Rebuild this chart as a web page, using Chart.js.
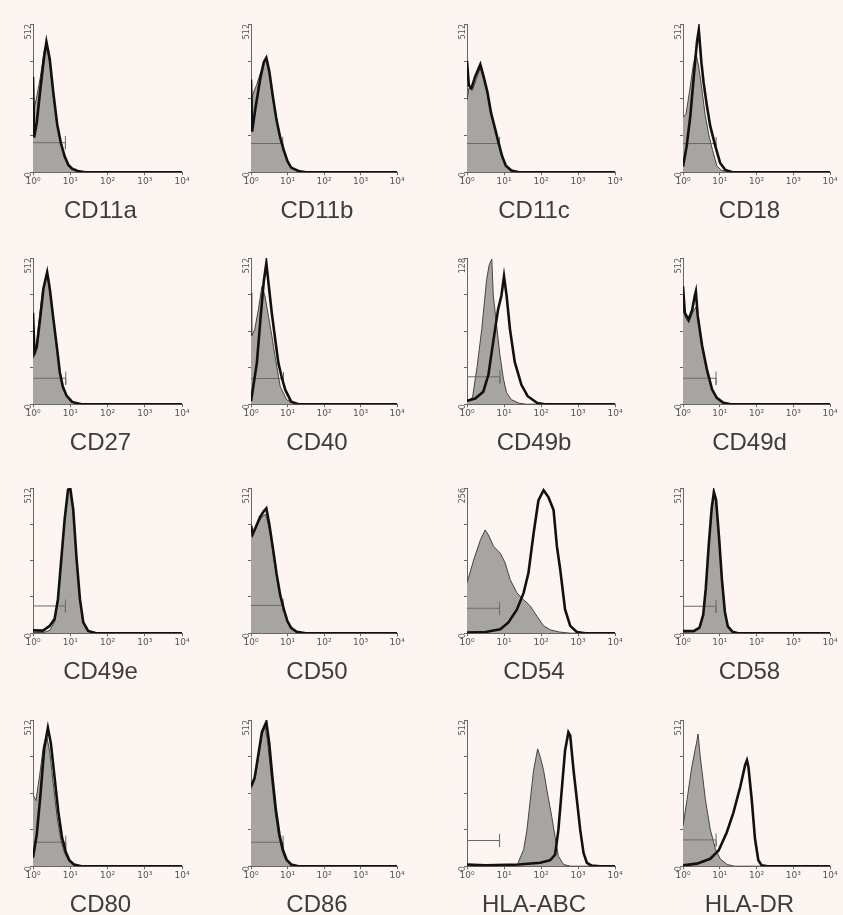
<!DOCTYPE html>
<html>
<head>
<meta charset="utf-8">
<script src="https://cdn.jsdelivr.net/npm/chart.js@4.4.1/dist/chart.umd.min.js"></script>
<style>
  body { margin: 0; background: #fcf5f2; }
  #wrap { position: relative; width: 843px; height: 915px; background: #fcf5f2; overflow: hidden; }
  canvas { position: absolute; }
</style>
</head>
<body>
<div id="wrap"></div>
<script>
// panel names, count range, gate marker
const names = ['CD11a', 'CD11b', 'CD11c', 'CD18', 'CD27', 'CD40', 'CD49b', 'CD49d',
  'CD49e', 'CD50', 'CD54', 'CD58', 'CD80', 'CD86', 'HLA-ABC', 'HLA-DR'];
const countMax = [512, 512, 512, 512, 512, 512, 128, 512, 512, 512, 256, 512, 512, 512, 512, 512];
const decades = [0, 1, 2, 3, 4];
const decadeLabels = ['10⁰', '10¹', '10²', '10³', '10⁴'];
const gateLevel = [102, 99, 99, 99, 91, 90, 24, 91, 96, 98, 44, 95, 84, 84, 90, 92];
const gateEnd = [0.87, 0.87, 0.88, 0.9, 0.88, 0.89, 0.89, 0.9, 0.87, 0.88, 0.88, 0.9, 0.88, 0.88, 0.88, 0.9];

// [log10 fluorescence, count] - isotype control (grey) and antibody (black)
const cd11aIso = [[0,200],[0.1,260],[0.2,330],[0.3,420],[0.36,440],[0.45,380],[0.55,260],[0.65,160],[0.75,100],[0.85,50],[0.95,22],[1.05,10],[1.2,3],[1.4,0],[4,0]];
const cd11aAb = [[0,330],[0.03,120],[0.1,170],[0.2,290],[0.3,400],[0.36,450],[0.45,390],[0.55,270],[0.65,165],[0.75,100],[0.85,55],[0.95,25],[1.05,12],[1.2,4],[1.4,0],[4,0]];
const cd11bIso = [[0,200],[0.05,270],[0.15,300],[0.25,340],[0.35,375],[0.42,390],[0.5,340],[0.6,250],[0.7,175],[0.8,115],[0.9,75],[1.0,35],[1.1,15],[1.3,3],[1.5,0],[4,0]];
const cd11bAb = [[0,320],[0.03,140],[0.12,220],[0.25,320],[0.35,380],[0.42,395],[0.5,350],[0.6,260],[0.7,180],[0.8,120],[0.9,75],[1.0,38],[1.1,16],[1.3,4],[1.5,0],[4,0]];
const cd11cIso = [[0,250],[0.05,290],[0.15,285],[0.25,320],[0.36,360],[0.45,320],[0.55,270],[0.65,200],[0.75,150],[0.85,100],[0.95,55],[1.05,22],[1.2,6],[1.4,0],[4,0]];
const cd11cAb = [[0,385],[0.05,300],[0.12,290],[0.22,330],[0.36,372],[0.45,330],[0.55,278],[0.65,205],[0.75,155],[0.85,103],[0.95,55],[1.05,22],[1.2,6],[1.4,0],[4,0]];
const cd18Iso = [[0,190],[0.08,200],[0.18,280],[0.28,370],[0.35,412],[0.42,370],[0.5,300],[0.6,200],[0.7,130],[0.8,78],[0.92,22],[1.05,6],[1.3,0],[4,0]];
const cd18Ab = [[0,20],[0.1,90],[0.2,195],[0.3,340],[0.38,450],[0.43,492],[0.5,380],[0.56,310],[0.65,230],[0.74,160],[0.88,90],[1.01,32],[1.15,8],[1.35,0],[4,0]];
const cd27Iso = [[0,170],[0.07,175],[0.15,280],[0.25,390],[0.38,455],[0.45,400],[0.55,290],[0.65,190],[0.72,110],[0.8,60],[0.9,28],[1.05,8],[1.3,0],[4,0]];
const cd27Ab = [[0,320],[0.04,180],[0.1,200],[0.2,310],[0.28,405],[0.38,462],[0.45,405],[0.55,295],[0.65,190],[0.72,112],[0.8,62],[0.9,30],[1.05,8],[1.3,0],[4,0]];
const cd40Iso = [[0,390],[0.02,240],[0.1,260],[0.2,330],[0.3,413],[0.38,380],[0.48,307],[0.57,240],[0.66,167],[0.8,62],[0.98,15],[1.2,3],[1.4,0],[4,0]];
const cd40Ab = [[0,10],[0.06,60],[0.16,144],[0.26,300],[0.35,430],[0.42,494],[0.5,400],[0.57,319],[0.66,230],[0.75,144],[0.85,90],[0.94,50],[1.1,9],[1.3,0],[4,0]];
const cd49bIso = [[0,2],[0.15,6],[0.27,32],[0.4,66],[0.53,109],[0.6,122],[0.67,127],[0.71,95],[0.8,69],[0.89,43],[0.98,23],[1.07,10],[1.2,4],[1.4,1],[1.6,0],[4,0]];
const cd49bAb = [[0,3],[0.22,5],[0.44,11],[0.58,26],[0.71,55],[0.84,83],[0.93,95],[1.0,112],[1.07,95],[1.16,66],[1.29,37],[1.47,17],[1.64,7],[1.9,1],[2.1,0],[4,0]];
const cd49dIso = [[0,330],[0.08,300],[0.16,285],[0.26,320],[0.35,340],[0.42,300],[0.52,200],[0.65,120],[0.79,50],[0.92,20],[1.1,4],[1.3,0],[4,0]];
const cd49dAb = [[0,413],[0.05,320],[0.15,296],[0.25,330],[0.32,380],[0.35,395],[0.4,310],[0.52,205],[0.65,122],[0.79,52],[0.92,22],[1.1,5],[1.3,0],[4,0]];
const cd49eIso = [[0,2],[0.3,3],[0.45,10],[0.58,40],[0.67,115],[0.76,255],[0.85,395],[0.94,500],[1.0,510],[1.08,430],[1.17,255],[1.26,115],[1.35,35],[1.48,6],[1.7,0],[4,0]];
const cd49eAb = [[0,10],[0.27,9],[0.45,26],[0.58,50],[0.67,120],[0.76,262],[0.85,402],[0.94,506],[1.0,512],[1.08,436],[1.17,262],[1.26,120],[1.35,38],[1.48,8],[1.7,0],[4,0]];
const cd50Iso = [[0,340],[0.1,360],[0.2,390],[0.3,410],[0.4,420],[0.5,370],[0.6,290],[0.7,200],[0.8,130],[0.9,80],[1.0,40],[1.1,18],[1.25,5],[1.5,0],[4,0]];
const cd50Ab = [[0,380],[0.05,350],[0.15,380],[0.25,410],[0.35,430],[0.42,440],[0.5,385],[0.6,300],[0.7,210],[0.8,135],[0.9,84],[1.0,42],[1.1,19],[1.25,5],[1.5,0],[4,0]];
const cd54Iso = [[0,89],[0.18,129],[0.36,164],[0.49,182],[0.58,173],[0.72,153],[0.9,141],[1.03,124],[1.17,94],[1.35,71],[1.53,59],[1.71,48],[1.89,30],[2.07,13],[2.25,6],[2.5,2],[2.8,0],[4,0]];
const cd54Ab = [[0,1],[0.5,2],[0.9,7],[1.12,19],[1.35,42],[1.53,71],[1.66,106],[1.8,176],[1.93,234],[2.07,252],[2.2,240],[2.34,217],[2.43,153],[2.52,112],[2.65,42],[2.79,13],[2.97,2],[3.2,0],[4,0]];
const cd58Iso = [[0,3],[0.3,5],[0.45,15],[0.55,60],[0.62,150],[0.7,300],[0.78,430],[0.84,490],[0.9,460],[0.98,330],[1.06,180],[1.14,70],[1.22,20],[1.35,4],[1.5,0],[4,0]];
const cd58Ab = [[0,8],[0.3,8],[0.45,20],[0.55,65],[0.62,158],[0.7,310],[0.78,440],[0.84,498],[0.9,470],[0.98,340],[1.06,188],[1.14,75],[1.22,24],[1.35,5],[1.5,0],[4,0]];
const cd80Iso = [[0,250],[0.08,230],[0.18,320],[0.28,420],[0.36,460],[0.45,400],[0.55,280],[0.65,170],[0.75,90],[0.85,45],[0.95,20],[1.1,5],[1.3,0],[4,0]];
const cd80Ab = [[0,30],[0.1,110],[0.2,250],[0.3,410],[0.4,484],[0.48,430],[0.58,310],[0.68,190],[0.78,100],[0.88,50],[0.98,20],[1.1,6],[1.3,0],[4,0]];
const cd86Iso = [[0,270],[0.1,300],[0.2,380],[0.3,460],[0.38,490],[0.45,440],[0.55,320],[0.65,200],[0.75,110],[0.85,55],[0.95,22],[1.1,6],[1.3,0],[4,0]];
const cd86Ab = [[0,280],[0.1,310],[0.2,390],[0.3,470],[0.42,505],[0.5,430],[0.58,320],[0.68,200],[0.78,110],[0.88,55],[0.98,22],[1.1,6],[1.3,0],[4,0]];
const hlaAbcIso = [[0,0],[1.35,2],[1.53,58],[1.62,127],[1.71,232],[1.8,336],[1.91,411],[1.98,382],[2.07,336],[2.16,266],[2.29,174],[2.38,104],[2.47,35],[2.61,6],[2.8,0],[4,0]];
const hlaAbcAb = [[0,6],[0.5,3],[1.4,6],[1.98,12],[2.25,21],[2.38,40],[2.47,127],[2.56,266],[2.65,405],[2.74,469],[2.79,457],[2.88,336],[2.97,232],[3.06,127],[3.15,46],[3.24,12],[3.37,2],[3.6,0],[4,0]];
const hlaDrIso = [[0,141],[0.11,233],[0.24,348],[0.38,440],[0.41,463],[0.47,383],[0.61,233],[0.74,130],[0.88,61],[1.01,26],[1.2,6],[1.4,0],[4,0]];
const hlaDrAb = [[0,3],[0.38,9],[0.74,26],[0.97,55],[1.19,118],[1.37,187],[1.56,279],[1.69,354],[1.74,371],[1.78,348],[1.87,233],[1.96,95],[2.05,21],[2.14,3],[2.3,0],[4,0]];

const isoSeries = [cd11aIso, cd11bIso, cd11cIso, cd18Iso, cd27Iso, cd40Iso, cd49bIso, cd49dIso,
  cd49eIso, cd50Iso, cd54Iso, cd58Iso, cd80Iso, cd86Iso, hlaAbcIso, hlaDrIso];
const abSeries = [cd11aAb, cd11bAb, cd11cAb, cd18Ab, cd27Ab, cd40Ab, cd49bAb, cd49dAb,
  cd49eAb, cd50Ab, cd54Ab, cd58Ab, cd80Ab, cd86Ab, hlaAbcAb, hlaDrAb];

// page layout of the 4x4 grid (plot area of each panel)
const colLeft = [33, 251, 467, 683];
const colWidth = [149, 146, 148, 147];
const rowTop = [24, 258, 488, 720];
const rowHeight = [149, 147, 146, 147];

const padL = 4, yAxisW = 14, padR = 14, padT = 8, xAxisH = 18;
const titleSize = 24, titlePadTop = 7, titlePadBottom = 4;
const titleH = titleSize * 1.2 + titlePadTop + titlePadBottom;

const wrap = document.getElementById('wrap');
const toXY = arr => arr.map(p => ({ x: p[0], y: p[1] }));

function noPad(scale) {
  scale.paddingTop = 0; scale.paddingBottom = 0;
  scale.paddingLeft = 0; scale.paddingRight = 0;
}

names.forEach((name, i) => {
  const r = Math.floor(i / 4), c = i % 4;
  const w = padL + yAxisW + colWidth[c] + padR;
  const h = padT + rowHeight[r] + xAxisH + titleH;
  const cv = document.createElement('canvas');
  cv.width = w; cv.height = h;
  cv.style.left = (colLeft[c] - padL - yAxisW) + 'px';
  cv.style.top = (rowTop[r] - padT) + 'px';
  wrap.appendChild(cv);

  const ymax = countMax[i];
  const tick = ymax * 0.045;
  const gate = [
    { x: 0, y: gateLevel[i] }, { x: gateEnd[i], y: gateLevel[i] },
    { x: gateEnd[i], y: gateLevel[i] - tick }, { x: gateEnd[i], y: gateLevel[i] + tick }
  ];

  new Chart(cv, {
    type: 'line',
    data: {
      datasets: [
        { data: toXY(abSeries[i]), borderColor: '#111', borderWidth: 2.6, pointRadius: 0, fill: false, tension: 0 },
        { data: gate, borderColor: '#6a6a6a', borderWidth: 1, pointRadius: 0, fill: false, tension: 0 },
        { data: toXY(isoSeries[i]), borderColor: '#444', borderWidth: 1, backgroundColor: '#a7a5a4', pointRadius: 0, fill: 'origin', tension: 0 }
      ]
    },
    options: {
      responsive: false,
      animation: false,
      devicePixelRatio: 1,
      layout: { padding: { left: padL, right: padR, top: padT, bottom: 0 } },
      plugins: {
        legend: { display: false },
        tooltip: { enabled: false },
        title: {
          display: true, position: 'bottom', text: name, color: '#3d3d3d',
          font: { family: 'Liberation Sans', size: titleSize, weight: 'normal' },
          padding: { top: titlePadTop, bottom: titlePadBottom }
        }
      },
      scales: {
        x: {
          type: 'linear', min: 0, max: 4,
          afterBuildTicks: s => { s.ticks = decades.map(v => ({ value: v })); },
          afterFit: s => { s.height = xAxisH; noPad(s); },
          grid: { drawOnChartArea: false, drawTicks: true, tickLength: 3, color: '#666' },
          border: { display: true, color: '#666', width: 1 },
          ticks: {
            autoSkip: false, maxRotation: 0, padding: 1, color: '#555',
            font: { family: 'DejaVu Sans', size: 9 },
            callback: v => decadeLabels[decades.indexOf(v)]
          }
        },
        y: {
          min: 0, max: ymax,
          afterBuildTicks: s => { s.ticks = [0, 1, 2, 3, 4].map(k => ({ value: ymax * k / 4 })); },
          afterFit: s => { s.width = yAxisW; noPad(s); },
          grid: { drawOnChartArea: false, drawTicks: true, tickLength: 3, color: '#666' },
          border: { display: true, color: '#666', width: 1 },
          ticks: {
            autoSkip: false, minRotation: 90, maxRotation: 90, padding: 1, color: '#555',
            font: { family: 'DejaVu Sans', size: 8 },
            callback: v => (v === 0 || v === ymax) ? String(v) : ''
          }
        }
      }
    }
  });
});
</script>
</body>
</html>
